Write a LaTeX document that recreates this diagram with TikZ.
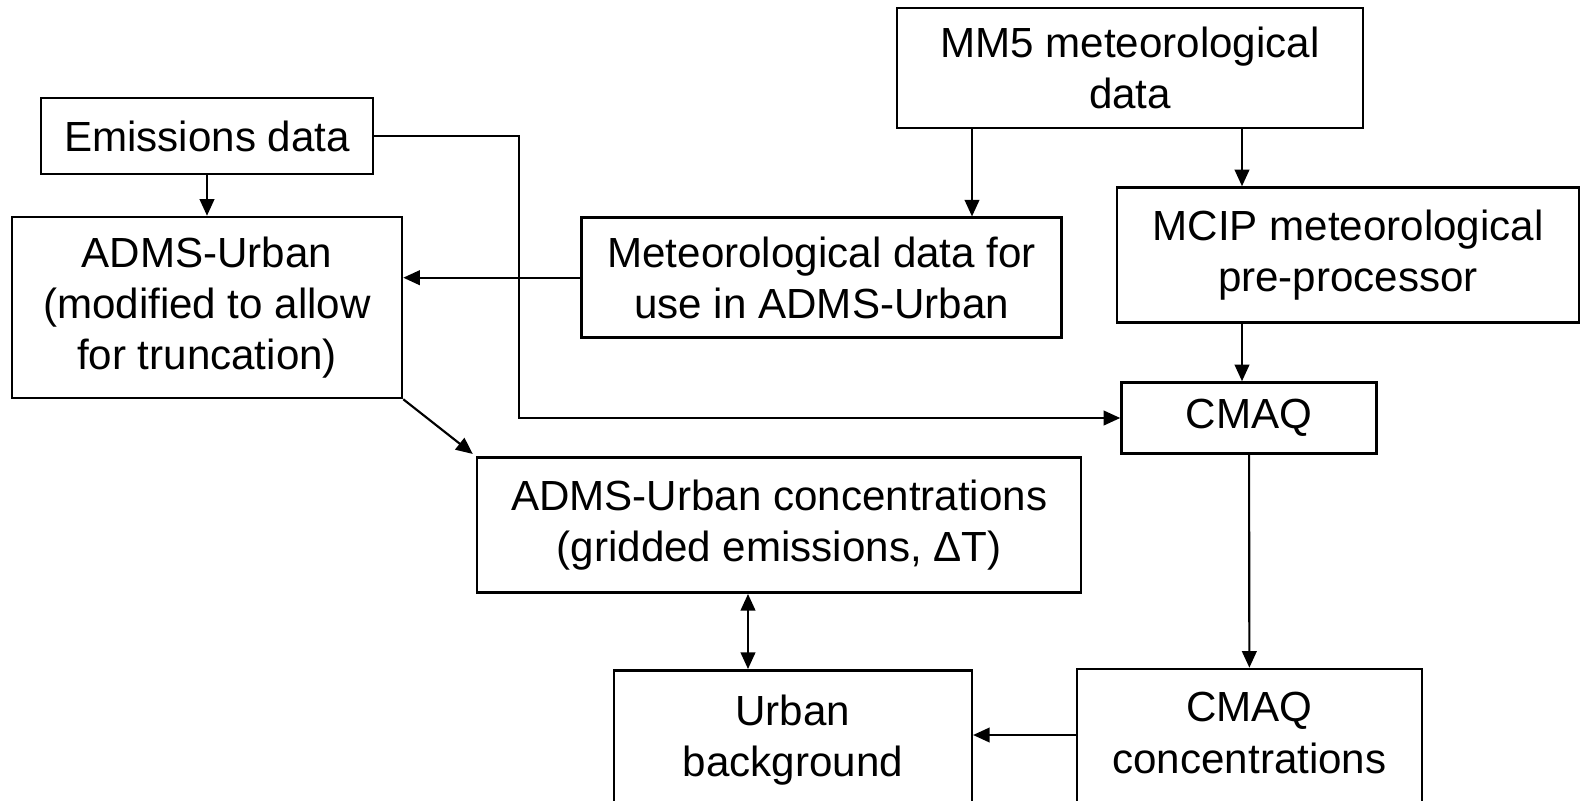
\documentclass[tikz,border=0pt]{standalone}
\usepackage{fontspec}
\setmainfont{Liberation Sans}
\usetikzlibrary{arrows.meta}

\begin{document}
\begin{tikzpicture}[x=0.75pt,y=0.75pt,yscale=-1,xscale=1,
  box/.style={draw, line width=1.9pt, inner sep=0pt, align=center, font=\fontsize{31.6}{38.3}\selectfont},
  arr/.style={line width=1.6pt, ->},
  >={Triangle[length=12.5pt,width=11pt]}]
\useasboundingbox (0,0) rectangle (1581,800);

%Shape: Rectangle
\node [box, minimum width=249pt, minimum height=57pt] (emis) at (207,136) {Emissions data};
%Shape: Rectangle
\node [box, minimum width=292.5pt, minimum height=135.75pt] (adms) at (207,307.5) {ADMS-Urban\\(modified to allow\\for truncation)};
%Shape: Rectangle
\node [box, minimum width=349.5pt, minimum height=90pt] (mm5) at (1130,68) {MM5 meteorological\\data};
%Shape: Rectangle
\node [box, minimum width=360pt, minimum height=90pt] (met) at (821.7,277.7) {Meteorological data for\\use in ADMS-Urban};
%Shape: Rectangle
\node [box, minimum width=346.5pt, minimum height=101.25pt] (mcip) at (1348,255) {MCIP meteorological\\pre-processor};
%Shape: Rectangle
\node [box, minimum width=191.25pt, minimum height=53.25pt] (cmaq) at (1249,418) {CMAQ};
%Shape: Rectangle
\node [box, minimum width=453pt, minimum height=101.25pt] (aconc) at (779.2,525.2) {ADMS-Urban concentrations\\(gridded emissions, ΔT)};
%Shape: Rectangle (runs off the bottom)
\node [box, anchor=north, minimum width=268.5pt, minimum height=136pt] (urban) at (792.8,669) {Urban\\background\\~};
%Shape: Rectangle (runs off the bottom)
\node [box, anchor=north, minimum width=258.75pt, minimum height=134pt] (cconc) at (1249.5,667.7) {CMAQ\\concentrations\\~};

\coordinate (mx) at (972,0);
\coordinate (px) at (1242,0);
\coordinate (ux) at (748,0);
\coordinate (by) at (0,735);

%Straight Lines
\draw [arr] (emis) -- (adms);
\draw [arr] (emis.east) -- ++(145,0) |- (cmaq.west);
\draw [arr] (met.west) -- (met.west -| adms.east);
\draw [arr] (mx |- mm5.south) -- (mx |- met.north);
\draw [arr] (px |- mm5.south) -- (px |- mcip.north);
\draw [arr] (px |- mcip.south) -- (px |- cmaq.north);
\draw [arr] (cmaq) -- (cconc);
\draw [arr] (cconc.west |- by) -- (urban.east |- by);
\draw [arr, <->] (ux |- aconc.south) -- (ux |- urban.north);
\draw [arr, shorten >=3pt] (adms.south east) -- (aconc.north west);

\end{tikzpicture}
\end{document}
